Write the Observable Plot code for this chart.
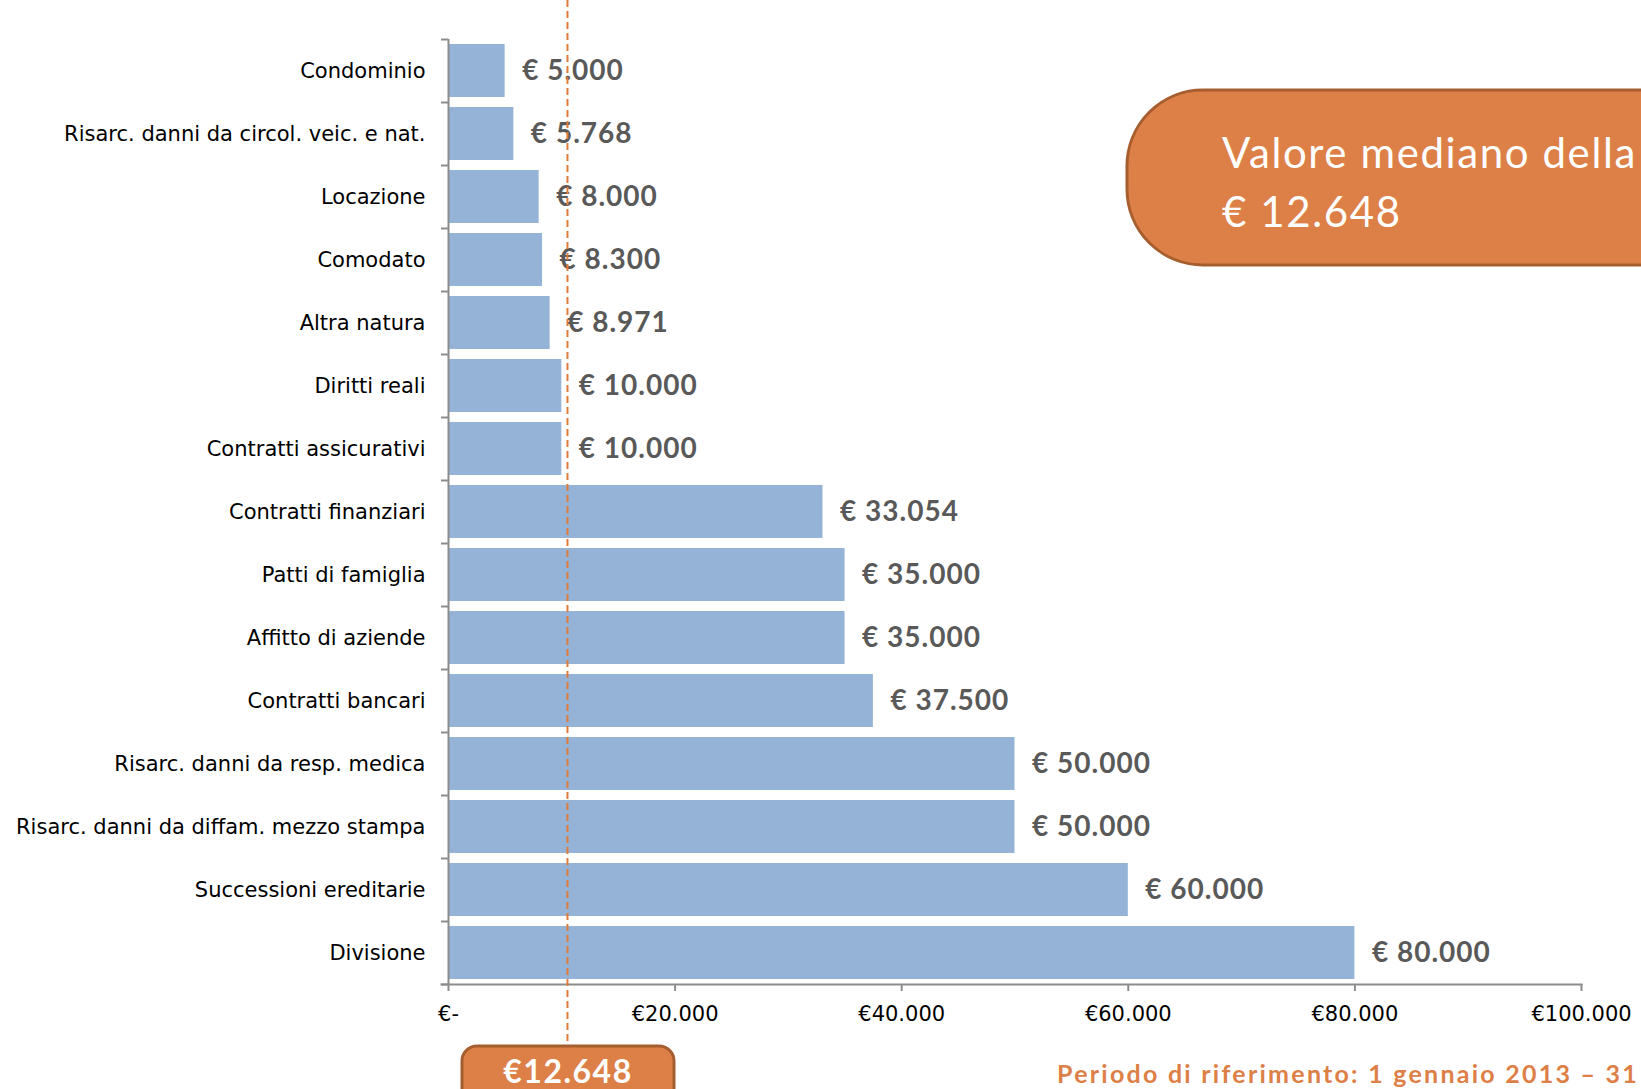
<!DOCTYPE html>
<html>
<head>
<meta charset="utf-8">
<script src="https://cdn.jsdelivr.net/npm/d3@7"></script>
<script src="https://cdn.jsdelivr.net/npm/@observablehq/plot@0.6"></script>
<style>
  html, body { margin: 0; padding: 0; background: #fff; overflow: hidden; }
  #chart svg { display: block; }
</style>
</head>
<body>
<div id="chart"></div>
<script>
const categories = [
  "Condominio",
  "Risarc. danni da circol. veic. e nat.",
  "Locazione",
  "Comodato",
  "Altra natura",
  "Diritti reali",
  "Contratti assicurativi",
  "Contratti finanziari",
  "Patti di famiglia",
  "Affitto di aziende",
  "Contratti bancari",
  "Risarc. danni da resp. medica",
  "Risarc. danni da diffam. mezzo stampa",
  "Successioni ereditarie",
  "Divisione"
];
const values = [5000, 5768, 8000, 8300, 8971, 10000, 10000, 33054, 35000, 35000, 37500, 50000, 50000, 60000, 80000];
const xTicks = [0, 20000, 40000, 60000, 80000, 100000];
const medianLinePos = 10500;       // where the dashed line is drawn in the picture
const medianLabel = "€12.648";
const boxLines = ["Valore mediano della", "€ 12.648"];
const footerText = "Periodo di riferimento: 1 gennaio 2013 – 31";

const data = categories.map((c, i) => ({cat: c, value: values[i]}));

const it = d3.formatLocale({decimal: ",", thousands: ".", grouping: [3], currency: ["€", ""]});
const num = it.format(",d");

const W = 1641, H = 1089;
const mt = 39, mb = 105, ml = 448, mr = 60;
const pInner = 0.16, pOuter = 0.08;
const step = (H - mt - mb) / (categories.length - pInner + 2 * pOuter);

const axisGrey = "#8c8c8c";
const orange = "#DD8047";
const orangeDark = "#A65E2E";
const font = "Lato, 'Open Sans', sans-serif";
const axisFont = "'DejaVu Sans', sans-serif";

const chart = Plot.plot({
  width: W, height: H,
  marginTop: mt, marginBottom: mb, marginLeft: ml, marginRight: mr,
  style: {fontFamily: font, background: "white", overflow: "visible"},
  x: {domain: [0, 100000]},
  y: {domain: categories, paddingInner: pInner, paddingOuter: pOuter},
  marks: [
    Plot.barX(data, {x: "value", y: "cat", fill: "#95B3D7"}),
    Plot.ruleX([0], {stroke: axisGrey, strokeWidth: 2}),
    Plot.frame({anchor: "bottom", stroke: axisGrey, strokeWidth: 2, insetLeft: -7}),
    Plot.ruleY(categories, {y: d => d, x1: 0, x2: 0, insetLeft: -7, dy: -step / 2, stroke: axisGrey, strokeWidth: 2}),
    Plot.ruleY([categories[categories.length - 1]], {y: d => d, x1: 0, x2: 0, insetLeft: -7, dy: step / 2, stroke: axisGrey, strokeWidth: 2}),
    Plot.axisX({
      ticks: xTicks,
      tickFormat: d => d === 0 ? "€-" : "€" + num(d),
      tickSize: 7, tickPadding: 15, fontSize: 21, fontFamily: axisFont,
      stroke: axisGrey, strokeWidth: 2, fill: "#000", label: null
    }),
    Plot.axisY({tickSize: 0, tickPadding: 23, fontSize: 21, fontFamily: axisFont, fill: "#000", label: null}),
    Plot.text(data, {
      x: "value", y: "cat", text: d => "€ " + num(d.value),
      dx: 17, textAnchor: "start", fontWeight: "bold", fontSize: 28, fill: "#595959"
    }),
    Plot.ruleX([medianLinePos], {
      stroke: "#E07B39", strokeWidth: 2, strokeDasharray: "7,4",
      insetTop: -mt, insetBottom: -(1046 - (H - mb))
    })
  ]
});

const svg = d3.select(chart);
svg.selectAll("g[aria-label='text'] text").style("letter-spacing", "1px");

// Top-right callout box
const g1 = svg.append("g").attr("text-anchor", "start");
g1.append("rect")
  .attr("x", 1127).attr("y", 90).attr("width", 640).attr("height", 175)
  .attr("rx", 76).attr("ry", 76)
  .attr("fill", orange).attr("stroke", orangeDark).attr("stroke-width", 3);
g1.append("text").attr("x", 1222).attr("y", 168)
  .attr("fill", "#fff").attr("font-size", 42).attr("font-family", font)
  .style("letter-spacing", "1.6px")
  .text(boxLines[0]);
g1.append("text").attr("x", 1222).attr("y", 227)
  .attr("fill", "#fff").attr("font-size", 42).attr("font-family", font)
  .style("letter-spacing", "1.6px")
  .text(boxLines[1]);

// Bottom median label box
const g2 = svg.append("g");
g2.append("rect")
  .attr("x", 462).attr("y", 1046).attr("width", 212).attr("height", 70)
  .attr("rx", 15).attr("ry", 15)
  .attr("fill", orange).attr("stroke", orangeDark).attr("stroke-width", 3);
g2.append("text").attr("x", 568).attr("y", 1083)
  .attr("text-anchor", "middle")
  .attr("fill", "#fff").attr("font-size", 32).attr("font-weight", "bold").attr("font-family", font)
  .style("letter-spacing", "1.5px")
  .text(medianLabel);

// Footer
svg.append("text").attr("x", 1057).attr("y", 1083)
  .attr("text-anchor", "start")
  .attr("fill", orange).attr("font-size", 25).attr("font-weight", "bold").attr("font-family", font)
  .style("letter-spacing", "2.25px")
  .text(footerText);

document.getElementById("chart").appendChild(chart);
</script>
</body>
</html>
